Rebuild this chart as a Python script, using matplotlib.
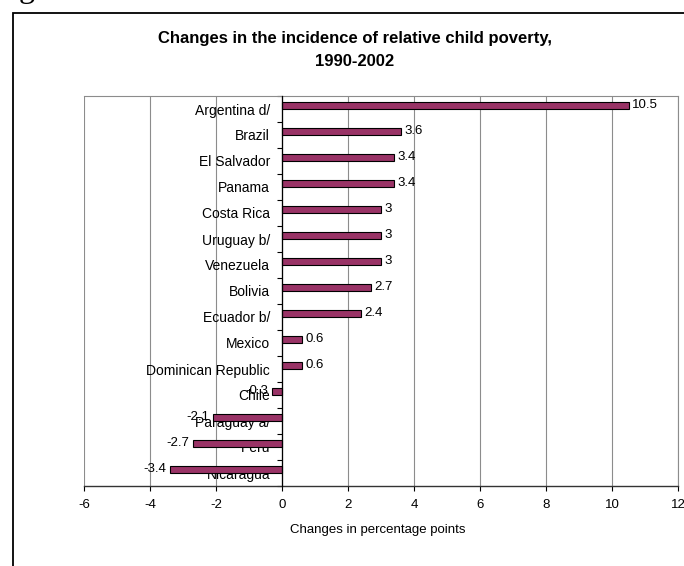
import matplotlib
matplotlib.use("Agg")
import matplotlib.pyplot as plt
from matplotlib.patches import Rectangle
from matplotlib.ticker import FixedLocator

plt.rcParams['font.family'] = ['Liberation Sans', 'DejaVu Sans']

categories = ["Argentina d/", "Brazil", "El Salvador", "Panama", "Costa Rica",
              "Uruguay b/", "Venezuela", "Bolivia", "Ecuador b/", "Mexico",
              "Dominican Republic", "Chile", "Paraguay a/", "Peru", "Nicaragua"]
values = [10.5, 3.6, 3.4, 3.4, 3, 3, 3, 2.7, 2.4, 0.6, 0.6, -0.3, -2.1, -2.7, -3.4]
x_ticks = [-6, -4, -2, 0, 2, 4, 6, 8, 10, 12]
title_lines = ["Changes in the incidence of relative child poverty,", "1990-2002"]
x_label = "Changes in percentage points"

W, H = 684, 566
fig = plt.figure(figsize=(W / 100, H / 100), dpi=100)

# outer frame (partially cut by the image edges)
fig.patches.append(Rectangle((13 / W, -0.1), 1.2, 1 - 13 / H + 0.1, fill=False,
                             edgecolor='black', linewidth=1.3,
                             transform=fig.transFigure, figure=fig))
# cut-off glyph at the very top-left
fig.text(19 / W, 1 + 3 / H, "g", family='Liberation Serif', fontsize=23,
         ha='left', va='baseline')

ax = fig.add_axes([84 / W, 1 - 486 / H, 594 / W, 390 / H])

n = len(categories)
pos = list(range(n))
bar_pos = [p - 0.135 for p in pos]
ax.barh(bar_pos, values, height=0.27, color='#993366', edgecolor='black',
        linewidth=0.8, zorder=2)

for bp, v in zip(bar_pos, values):
    if v >= 0:
        ax.annotate(f"{v:g}", (v, bp), xytext=(2.5, 0), textcoords='offset points',
                    ha='left', va='center', fontsize=9.5, zorder=4)
    else:
        ax.annotate(f"{v:g}", (v, bp), xytext=(-2.5, 0), textcoords='offset points',
                    ha='right', va='center', fontsize=9.5, zorder=4)

ax.set_xlim(x_ticks[0], x_ticks[-1])
ax.set_ylim(n - 0.5, -0.5)
ax.set_axisbelow(True)

ax.set_xticks(x_ticks)
ax.set_xticklabels([f"{t:g}" for t in x_ticks], fontsize=9.5)
ax.tick_params(axis='x', direction='out', length=3.6, width=0.8, color='black', pad=6)
ax.xaxis.grid(True, color='#8c8c8c', linewidth=0.8)

ax.set_yticks(pos)
ax.set_yticklabels(categories, fontsize=9.7)
ax.yaxis.set_minor_locator(FixedLocator([p - 0.5 for p in range(n + 1)]))
ax.tick_params(axis='y', which='major', length=0, pad=8.6)
ax.tick_params(axis='y', which='minor', direction='out', length=3.6, width=0.8, color='black')

ax.spines['left'].set_position(('data', 0))
ax.spines['left'].set_color('black')
ax.spines['left'].set_linewidth(0.9)
ax.spines['left'].set_zorder(3)
ax.spines['bottom'].set_color('#333333')
ax.spines['bottom'].set_linewidth(1.0)
for s in ['top', 'right']:
    ax.spines[s].set_color('#8c8c8c')
    ax.spines[s].set_linewidth(0.8)
ax.patch.set_facecolor('white')

fig.text(355 / W, 1 - 38 / H, title_lines[0], ha='center', va='center',
         fontsize=12, fontweight='bold')
fig.text(355 / W, 1 - 62 / H, title_lines[1], ha='center', va='center',
         fontsize=12, fontweight='bold')
fig.text(378 / W, 1 - 530 / H, x_label, ha='center', va='center', fontsize=9.5)

fig.savefig("out.png", dpi=100)
